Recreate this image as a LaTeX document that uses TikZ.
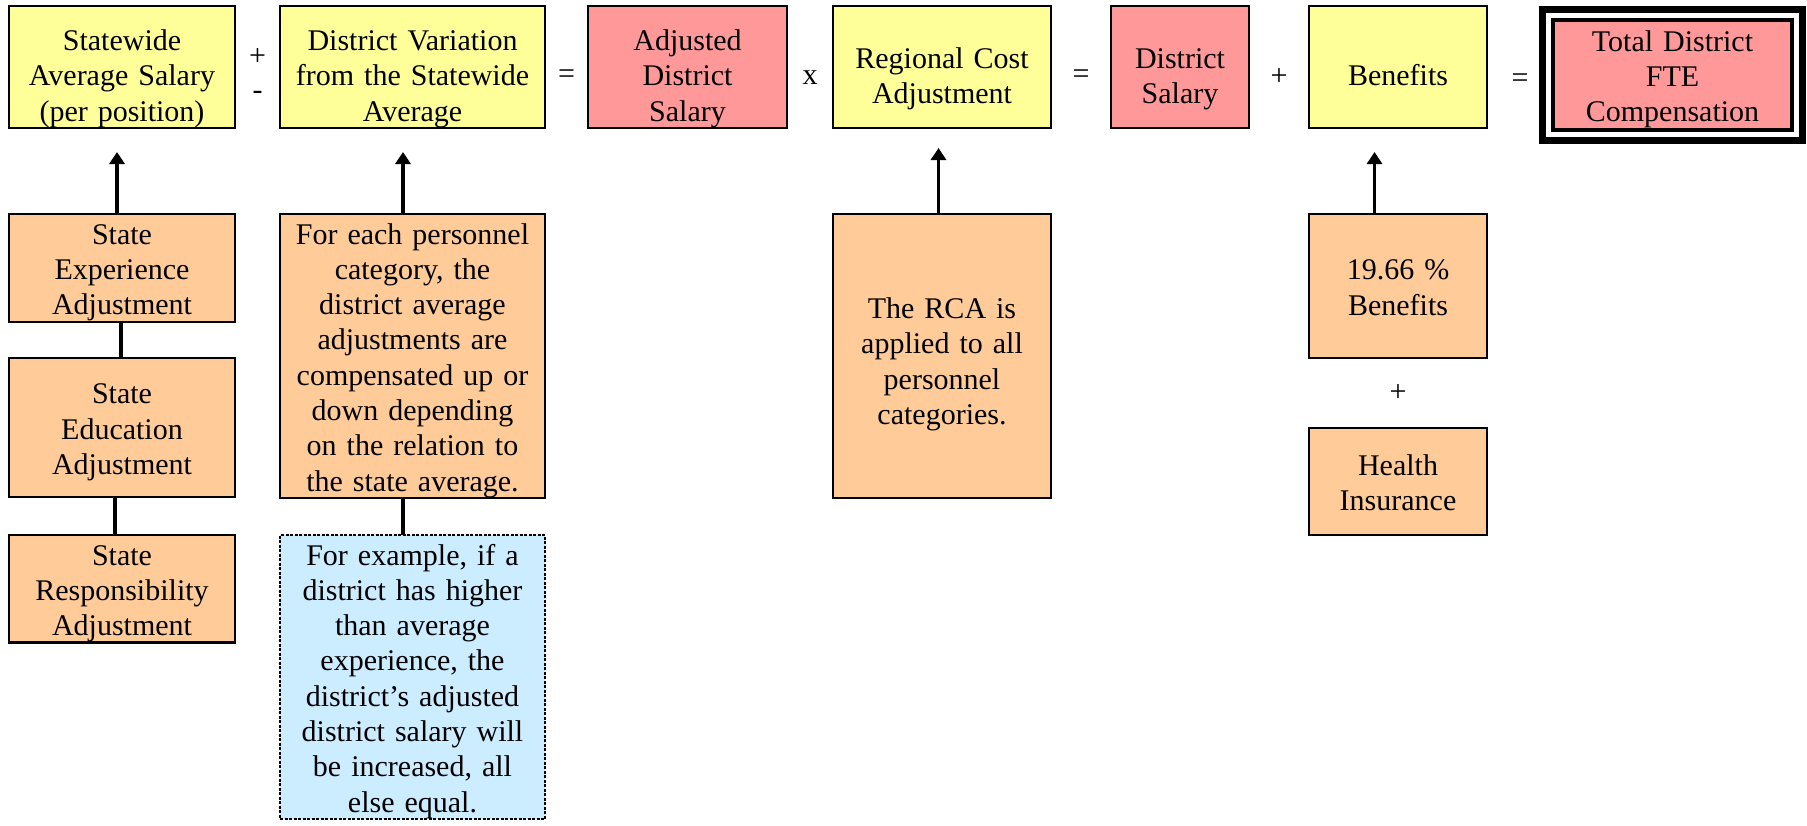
\documentclass[tikz,border=0pt]{standalone}
\usepackage{fontspec}
\setmainfont{Liberation Serif}
\usetikzlibrary{positioning, arrows.meta, calc}

\definecolor{boxyellow}{HTML}{FFFF99}
\definecolor{boxpink}{HTML}{FF9999}
\definecolor{boxorange}{HTML}{FFCC99}
\definecolor{boxblue}{HTML}{CCECFF}

\begin{document}
\begin{tikzpicture}[
            x=1pt, y=-1pt,
            font=\fontsize{30}{35.3}\selectfont,
            box/.style = {draw, line width=2.5pt, inner sep=0pt, outer sep=0pt, align=center},
            topbox/.style = {box, minimum height=122pt,
                execute at begin node={\rule{0pt}{44.4pt}},
                execute at end node={\rule[-6.8pt]{0pt}{6.8pt}}},
            lowbox/.style = {box,
                execute at begin node={\rule{0pt}{30pt}},
                execute at end node={\rule[-6.8pt]{0pt}{6.8pt}}},
            op/.style = {inner sep=0pt},
            line/.style = {draw, line width=3.5pt},
            arrow/.style = {line, -{Triangle[length=12pt, width=15pt]}, shorten >=24pt},
            ]
            \useasboundingbox (0,0) rectangle (1807,825);

            % top row
            \node[topbox, fill=boxyellow, text width=226pt] (sal) at (122,67) {Statewide\\Average Salary\\(per position)};
            \node[topbox, fill=boxyellow, text width=265pt, right=45pt of sal] (var) {District Variation\\from the Statewide\\Average};
            \node[topbox, fill=boxpink, text width=199pt, right=43pt of var] (adj) {Adjusted\\District\\Salary};
            \node[topbox, fill=boxyellow, text width=218pt, right=46pt of adj] (rca) {Regional Cost\\Adjustment};
            \node[topbox, fill=boxpink, text width=138pt, right=60pt of rca] (dsal) {District\\Salary};
            \node[topbox, fill=boxyellow, text width=178pt, right=60pt of dsal] (ben) {Benefits};
            \node[lowbox, fill=boxpink, line width=4pt, text width=239pt, minimum height=110pt] (tot) at (1672.5,75) {Total District\\FTE\\Compensation};
            \draw[line width=7pt] ([shift={(-10.5pt,10.5pt)}]tot.north west) rectangle ([shift={(10.5pt,-10.5pt)}]tot.south east);

            % operators
            \node[op, yshift=10pt] (plus1) at ($(sal.east)!0.5!(var.west)$) {+};
            \node[op, yshift=-28pt] (minus1) at ($(sal.east)!0.5!(var.west)$) {-};
            \node[op, yshift=-10pt] (eq1) at ($(var.east)!0.5!(adj.west)$) {=};
            \node[op, yshift=-11pt] (times1) at ($(adj.east)!0.5!(rca.west)$) {x};
            \node[op, yshift=-10pt] (eq2) at ($(rca.east)!0.5!(dsal.west)$) {=};
            \node[op, yshift=-10pt] (plus2) at ($(dsal.east)!0.5!(ben.west)$) {+};
            \node[op, yshift=-10pt] (eq3) at ($(ben.east)!0.5!(tot.west)$) {=};

            % lower boxes
            \node[lowbox, fill=boxorange, text width=226pt, minimum height=108pt, below=86pt of sal] (exp) {State\\Experience\\Adjustment};
            \node[lowbox, fill=boxorange, text width=226pt, minimum height=139pt, below=36pt of exp] (edu) {State\\Education\\Adjustment};
            \node[lowbox, fill=boxorange, text width=226pt, minimum height=107pt, below=38pt of edu] (resp) {State\\Responsibility\\Adjustment};
            \node[lowbox, fill=boxorange, text width=265pt, minimum height=284pt, below=86pt of var] (each) {For each personnel\\category, the\\district average\\adjustments are\\compensated up or\\down depending\\on the relation to\\the state average.};
            \node[lowbox, fill=boxblue, line width=2pt, dash pattern=on 3pt off 1.5pt, text width=265pt, minimum height=284pt, below=37pt of each] (ex) {For example, if a\\district has higher\\than average\\experience, the\\district’s adjusted\\district salary will\\be increased, all\\else equal.};
            \node[lowbox, fill=boxorange, text width=218pt, minimum height=284pt, below=86pt of rca,
                execute at begin node={\rule{0pt}{38pt}}] (rcatxt) {The RCA is\\applied to all\\personnel\\categories.};
            \node[lowbox, fill=boxorange, text width=178pt, minimum height=144pt, below=86pt of ben] (pct) {19.66 \%\\Benefits};
            \node[lowbox, fill=boxorange, text width=178pt, minimum height=107pt, below=70pt of pct] (hlth) {Health\\Insurance};
            \node[op] (plus3) at ($(pct.south)!0.5!(hlth.north)$) {+};

            % connectors
            \draw[arrow] ([xshift=-5pt]exp.north) -- ([xshift=-5pt]sal.south);
            \draw[line] ([xshift=-1pt]exp.south) -- ([xshift=-1pt]edu.north);
            \draw[line] ([xshift=-7pt]edu.south) -- ([xshift=-7pt]resp.north);
            \draw[arrow] ([xshift=-9.5pt]each.north) -- ([xshift=-9.5pt]var.south);
            \draw[line] ([xshift=-9.5pt]each.south) -- ([xshift=-9.5pt]ex.north);
            \draw[arrow, shorten >=20pt] ([xshift=-3.5pt]rcatxt.north) -- ([xshift=-3.5pt]rca.south);
            \draw[arrow] ([xshift=-23.5pt]pct.north) -- ([xshift=-23.5pt]ben.south);
        \end{tikzpicture}
\end{document}
